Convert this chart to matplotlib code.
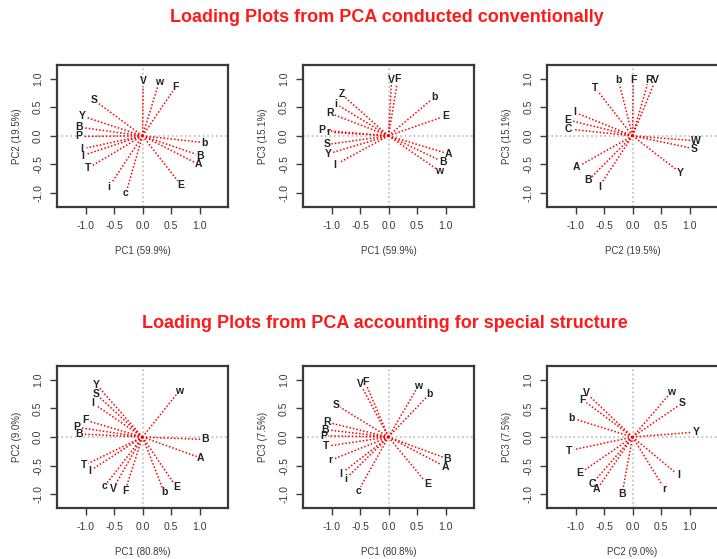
import matplotlib
matplotlib.use("Agg")
import matplotlib.pyplot as plt
import numpy as np

plt.rcParams['font.family'] = ['Liberation Sans', 'DejaVu Sans']

#####
# loadings, conventional PCA
#####

# PC1 vs PC2
conv12_labels = ['V', 'w', 'F', 'S', 'Y', 'B', 'P', 'l', 'I', 'T', 'i', 'c', 'E', 'A', 'B', 'b']
conv12_x = [0.01, 0.27, 0.53, -0.79, -0.98, -1.03, -1.04, -0.98, -0.98, -0.88, -0.54, -0.27, 0.62, 0.91, 0.94, 1.01]
conv12_y = [0.87, 0.87, 0.78, 0.58, 0.32, 0.14, -0.01, -0.21, -0.32, -0.52, -0.82, -0.93, -0.79, -0.46, -0.32, -0.11]

# PC1 vs PC3
conv13_labels = ['V', 'F', 'Z', 'i', 'R', 'P', 'r', 'S', 'Y', 'I', 'b', 'E', 'A', 'B', 'w']
conv13_x = [0.05, 0.15, -0.76, -0.86, -0.96, -1.09, -0.98, -1.00, -0.98, -0.87, 0.75, 0.92, 0.97, 0.88, 0.83]
conv13_y = [0.90, 0.91, 0.67, 0.52, 0.37, 0.09, 0.06, -0.14, -0.29, -0.47, 0.63, 0.32, -0.29, -0.42, -0.57]

# PC2 vs PC3
conv23_labels = ['b', 'F', 'R', 'V', 'T', 'I', 'E', 'C', 'W', 'S', 'Y', 'A', 'B', 'l']
conv23_x = [-0.23, 0.01, 0.26, 0.37, -0.61, -0.94, -1.06, -1.04, 1.03, 1.01, 0.78, -0.91, -0.72, -0.54]
conv23_y = [0.90, 0.90, 0.90, 0.90, 0.78, 0.38, 0.26, 0.11, -0.08, -0.21, -0.60, -0.51, -0.72, -0.82]

#####
# loadings, PCA with special structure
#####

spec12_labels = ['Y', 'S', 'I', 'F', 'P', 'B', 'w', 'B', 'A', 'T', 'I', 'c', 'V', 'F', 'b', 'E']
spec12_x = [-0.75, -0.76, -0.81, -0.92, -1.08, -1.03, 0.60, 1.02, 0.95, -0.95, -0.86, -0.62, -0.48, -0.28, 0.35, 0.55]
spec12_y = [0.85, 0.70, 0.55, 0.27, 0.16, 0.05, 0.75, -0.04, -0.34, -0.46, -0.55, -0.80, -0.84, -0.86, -0.89, -0.81]

spec13_labels = ['V', 'F', 'w', 'b', 'S', 'R', 'B', 'P', 'T', 'r', 'I', 'i', 'c', 'E', 'B', 'A']
spec13_x = [-0.46, -0.38, 0.48, 0.66, -0.85, -1.00, -1.03, -1.06, -1.01, -0.95, -0.78, -0.70, -0.49, 0.63, 0.95, 0.92]
spec13_y = [0.86, 0.89, 0.82, 0.69, 0.52, 0.24, 0.12, 0.02, -0.15, -0.38, -0.60, -0.68, -0.87, -0.76, -0.35, -0.48]

spec23_labels = ['V', 'F', 'w', 'S', 'b', 'Y', 'T', 'E', 'C', 'A', 'B', 'r', 'I']
spec23_x = [-0.75, -0.81, 0.63, 0.81, -1.00, 1.03, -1.03, -0.86, -0.66, -0.58, -0.17, 0.52, 0.75]
spec23_y = [0.71, 0.60, 0.73, 0.55, 0.31, 0.08, -0.22, -0.59, -0.76, -0.85, -0.92, -0.84, -0.62]

ticks = [-1.0, -0.5, 0.0, 0.5, 1.0]
tick_text = ['-1.0', '-0.5', '0.0', '0.5', '1.0']

dark = '#3a3a3a'


def loading_plot(ax, xs, ys, labels, xlab, ylab):
    xs = np.array(xs)
    ys = np.array(ys)
    ax.axhline(0, color='#bbbbbb', linestyle=':', linewidth=1.2, zorder=0)
    ax.axvline(0, color='#bbbbbb', linestyle=':', linewidth=1.2, zorder=0)
    for x, y, lab in zip(xs, ys, labels):
        ax.plot([0, x], [0, y], color='red', linestyle=(0, (1, 1.3)), linewidth=1.1)
        r = np.hypot(x, y)
        tx = x + 0.08 * x / r
        ty = y + 0.08 * y / r
        ax.text(tx, ty, lab, ha='center', va='center', fontsize=7.5,
                fontweight='bold', color='#222222')
    ax.set_xlim(-1.5, 1.5)
    ax.set_ylim(-1.24, 1.24)
    ax.set_xticks(ticks)
    ax.set_xticklabels(tick_text)
    ax.set_yticks(ticks)
    ax.set_yticklabels(tick_text, rotation=90, va='center')
    ax.tick_params(direction='out', length=5, width=1, color=dark,
                   labelsize=7.5, labelcolor=dark, pad=5)
    for s in ax.spines.values():
        s.set_linewidth(1.6)
        s.set_color(dark)
    ax.set_xlabel(xlab, fontsize=7, color=dark, labelpad=11)
    ax.set_ylabel(ylab, fontsize=7, color=dark, labelpad=8)


fig = plt.figure(figsize=(7.17, 5.59), dpi=100)

lefts = [0.0795, 0.4226, 0.763]
w = 0.2385
h = 0.254

top_axes = [fig.add_axes([l, 0.630, w, h]) for l in lefts]
bot_axes = [fig.add_axes([l, 0.0912, w, h]) for l in lefts]

loading_plot(top_axes[0], conv12_x, conv12_y, conv12_labels, 'PC1 (59.9%)', 'PC2 (19.5%)')
loading_plot(top_axes[1], conv13_x, conv13_y, conv13_labels, 'PC1 (59.9%)', 'PC3 (15.1%)')
loading_plot(top_axes[2], conv23_x, conv23_y, conv23_labels, 'PC2 (19.5%)', 'PC3 (15.1%)')

loading_plot(bot_axes[0], spec12_x, spec12_y, spec12_labels, 'PC1 (80.8%)', 'PC2 (9.0%)')
loading_plot(bot_axes[1], spec13_x, spec13_y, spec13_labels, 'PC1 (80.8%)', 'PC3 (7.5%)')
loading_plot(bot_axes[2], spec23_x, spec23_y, spec23_labels, 'PC2 (9.0%)', 'PC3 (7.5%)')

fig.text(0.54, 1 - 18 / 559, 'Loading Plots from PCA conducted conventionally',
         ha='center', va='center', color='#ff1a1a', fontsize=13, fontweight='bold')
fig.text(0.537, 1 - 323 / 559, 'Loading Plots from PCA accounting for special structure',
         ha='center', va='center', color='#ff1a1a', fontsize=13, fontweight='bold')

fig.savefig('out.png', dpi=100)
